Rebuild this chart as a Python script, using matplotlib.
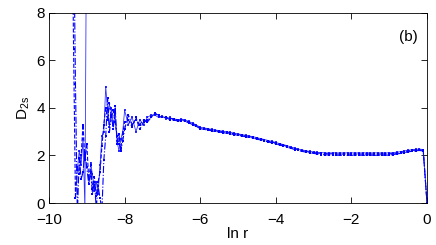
import numpy as np
import matplotlib
matplotlib.use("Agg")
import matplotlib.pyplot as plt

plt.rcParams['font.family'] = ['Liberation Sans', 'DejaVu Sans']
plt.rcParams['mathtext.fontset'] = 'custom'
plt.rcParams['mathtext.rm'] = 'Liberation Sans'
plt.rcParams['mathtext.it'] = 'Liberation Sans'

nan = np.nan

# noisy head region (three embedding series)
x_head = [-9.40, -9.35, -9.30, -9.25, -9.20, -9.15, -9.10, -9.05, -9.00, -8.95,
          -8.90, -8.85, -8.80, -8.75, -8.70, -8.65, -8.60, -8.55, -8.50, -8.45,
          -8.40, -8.35, -8.30, -8.25, -8.20, -8.15, -8.10, -8.05, -8.00, -7.90,
          -7.80, -7.70, -7.60, -7.50, -7.40, -7.30, -7.20, -7.10, -7.00, -6.90,
          -6.80, -6.70, -6.60]

head_a = [14, 6.5, 0.2, 1.5, 1.2, 2.0, 3.3, 1.8, 2.5, 1.0,
          1.6, 0.6, 1.1, 0.3, 0.9, 1.3, 2.4, 3.3, 4.0, 3.5,
          4.2, 3.6, 3.9, 3.4, 2.8, 2.5, 2.3, 2.9, 3.4, 3.5,
          3.2, 3.6, 3.1, 3.4, 3.5, 3.6, 3.8, 3.65, 3.6, 3.6,
          3.55, 3.55, 3.5]

head_b = [nan, nan, nan, 1.4, 2.2, 1.6, 2.7, -0.3, 14, nan,
          1.7, 1.2, 0.5, 0.9, 0.4, 1.6, 2.8, 3.0, 4.9, 3.9,
          3.2, 4.0, 3.3, 3.7, 2.6, 2.2, 2.7, 3.0, 3.9, 3.3,
          3.6, 3.0, 3.5, 3.3, 3.6, 3.7, 3.7, 3.6, 3.65, 3.55,
          3.6, 3.5, 3.48]

head_c = [nan, 12, 5, -0.5, 1.9, 1.0, 1.3, 2.1, 1.5, 0.8,
          1.3, 0.4, 0.9, -0.2, 0.7, 0.2, -0.3, 1.8, 2.8, 4.4,
          3.0, 3.7, 3.1, 4.1, 2.5, 2.9, 2.2, 2.6, 3.1, 3.7,
          3.3, 3.5, 3.3, 3.5, 3.4, 3.6, 3.75, 3.7, 3.6, 3.6,
          3.5, 3.5, 3.45]

# smooth tail region
x_tail = [-6.5, -6.4, -6.3, -6.2, -6.1, -6.0, -5.9, -5.8, -5.7, -5.6,
          -5.5, -5.4, -5.3, -5.2, -5.1, -5.0, -4.9, -4.8, -4.7, -4.6,
          -4.5, -4.4, -4.3, -4.2, -4.1, -4.0, -3.9, -3.8, -3.7, -3.6,
          -3.5, -3.4, -3.3, -3.2, -3.1, -3.0, -2.9, -2.8, -2.7, -2.6,
          -2.5, -2.4, -2.3, -2.2, -2.1, -2.0, -1.9, -1.8, -1.7, -1.6,
          -1.5, -1.4, -1.3, -1.2, -1.1, -1.0, -0.9, -0.8, -0.7, -0.6,
          -0.5, -0.4, -0.3, -0.2, -0.1, 0.0]

tail_a = [3.50, 3.47, 3.40, 3.33, 3.25, 3.16, 3.13, 3.10, 3.07, 3.04,
          3.02, 2.99, 2.97, 2.94, 2.91, 2.88, 2.85, 2.82, 2.79, 2.76,
          2.72, 2.68, 2.64, 2.60, 2.56, 2.52, 2.47, 2.43, 2.38, 2.33,
          2.28, 2.24, 2.20, 2.17, 2.14, 2.12, 2.10, 2.09, 2.08, 2.07,
          2.07, 2.06, 2.06, 2.06, 2.06, 2.06, 2.06, 2.06, 2.06, 2.06,
          2.06, 2.06, 2.06, 2.06, 2.06, 2.07, 2.08, 2.10, 2.13, 2.16,
          2.19, 2.21, 2.23, 2.24, 2.22, 0.0]

tail_b = [3.53, 3.50, 3.43, 3.36, 3.28, 3.19, 3.16, 3.13, 3.10, 3.07,
          3.05, 3.02, 3.00, 2.97, 2.94, 2.91, 2.88, 2.85, 2.82, 2.79,
          2.75, 2.71, 2.67, 2.63, 2.59, 2.55, 2.50, 2.46, 2.41, 2.36,
          2.31, 2.27, 2.23, 2.20, 2.17, 2.15, 2.13, 2.12, 2.11, 2.11,
          2.11, 2.11, 2.11, 2.11, 2.11, 2.11, 2.11, 2.11, 2.11, 2.11,
          2.11, 2.11, 2.11, 2.11, 2.11, 2.11, 2.12, 2.14, 2.16, 2.19,
          2.22, 2.24, 2.26, 2.27, 2.25, 0.0]

tail_c = [3.47, 3.44, 3.37, 3.30, 3.22, 3.13, 3.10, 3.07, 3.04, 3.01,
          2.99, 2.96, 2.94, 2.91, 2.88, 2.85, 2.82, 2.79, 2.76, 2.73,
          2.69, 2.65, 2.61, 2.57, 2.53, 2.49, 2.44, 2.40, 2.35, 2.30,
          2.25, 2.21, 2.17, 2.14, 2.11, 2.09, 2.06, 2.04, 2.03, 2.02,
          2.01, 2.01, 2.01, 2.01, 2.01, 2.01, 2.01, 2.01, 2.01, 2.01,
          2.01, 2.01, 2.01, 2.01, 2.01, 2.02, 2.04, 2.06, 2.09, 2.12,
          2.15, 2.18, 2.20, 2.21, 2.19, 0.0]

x_ticks = [-10, -8, -6, -4, -2, 0]
y_ticks = [0, 2, 4, 6, 8]

fig = plt.figure(figsize=(4.36, 2.45), dpi=100)
ax = fig.add_axes([0.1124, 0.1714, 0.867, 0.776])

blue = (0, 0, 1)
ms = 2.0
ax.plot(x_head + x_tail, head_a + tail_a, linestyle='--', color=blue, lw=0.8,
        marker='s', markersize=ms, markeredgewidth=0)
ax.plot(x_head + x_tail, head_b + tail_b, linestyle='-', color=blue, lw=0.6,
        marker='s', markersize=ms, markeredgewidth=0, alpha=0.8)
ax.plot(x_head + x_tail, head_c + tail_c, linestyle='-.', color=blue, lw=0.8,
        marker='s', markersize=ms, markeredgewidth=0)

ax.set_xlim(-10, 0)
ax.set_ylim(0, 8)
ax.set_xticks(x_ticks)
ax.set_yticks(y_ticks)
ax.set_xticklabels(['\u2212' + str(abs(t)) if t < 0 else str(t) for t in x_ticks])
ax.tick_params(direction='in', top=True, right=True, length=4, width=0.6,
               labelsize=11)
ax.tick_params(axis='x', pad=7)
ax.tick_params(axis='y', pad=3)
for s in ax.spines.values():
    s.set_linewidth(0.6)

ax.set_xlabel('ln r', fontsize=11, labelpad=0)
ax.set_ylabel('D$_{\\mathrm{2s}}$', fontsize=11, labelpad=3)
ax.text(-0.5, 7.0, '(b)', fontsize=11, ha='center', va='center')

fig.savefig('out.png', dpi=100)
